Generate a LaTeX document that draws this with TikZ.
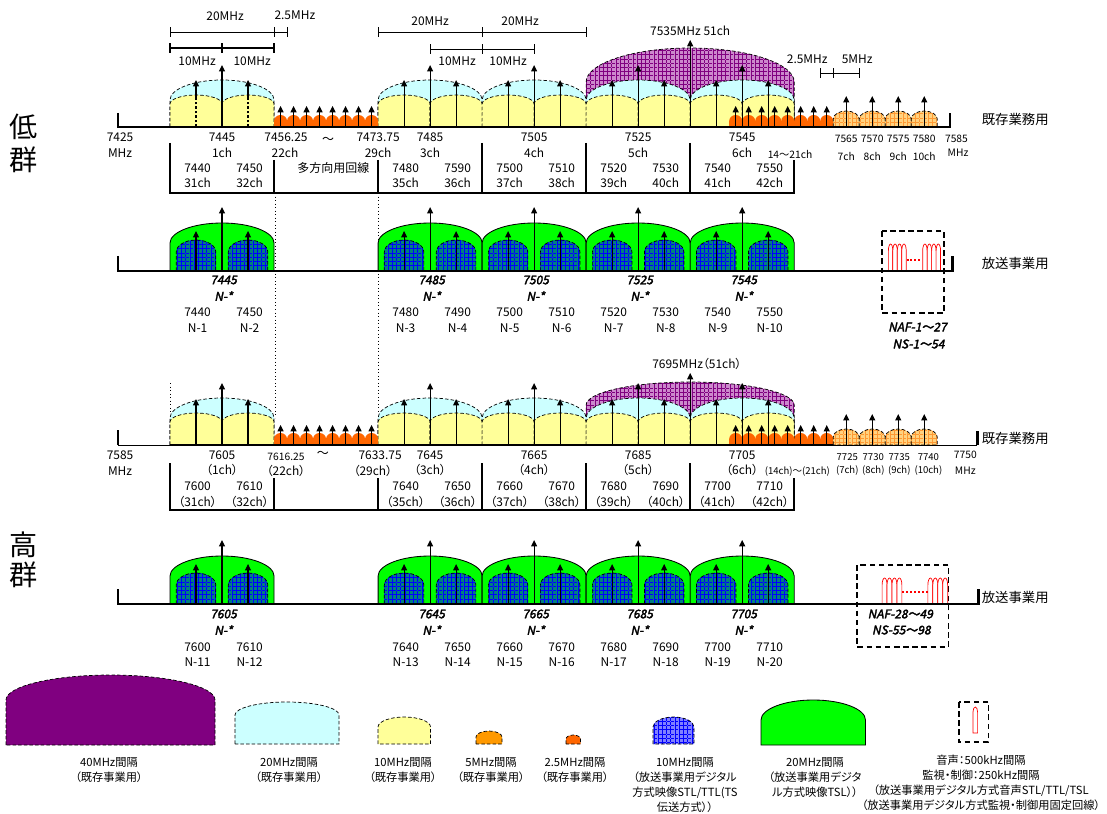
\documentclass[tikz,border=0pt]{standalone}
\usepackage{fontspec}
\setmainfont{Noto Sans CJK JP}[RawFeature=+palt]
\newfontfamily\bifont{Noto Sans CJK JP}[FakeSlant=0.2, FakeBold=2.5, RawFeature=+palt]
\usetikzlibrary{arrows.meta,patterns}

\definecolor{ylwfill}{HTML}{FFFF99}
\definecolor{cynfill}{HTML}{CCFFFF}
\definecolor{prpfill}{HTML}{CC88CC}
\definecolor{prpline}{HTML}{800080}
\definecolor{ornfill}{HTML}{FF6600}
\definecolor{lornfill}{HTML}{FFD280}
\definecolor{lornline}{HTML}{FF9933}
\definecolor{grnfill}{HTML}{00FF00}
\definecolor{blufill}{HTML}{008080}
\definecolor{bluline}{HTML}{0000FF}
\definecolor{legprp}{HTML}{800080}
\definecolor{legorn}{HTML}{FF9900}
\definecolor{legblu}{HTML}{8080FF}

% dome: style, x1, x2, base y, shoulder y, apex y
\newcommand{\dome}[6]{\path[#1] (#2,#4) -- (#2,#5) .. controls (#2,{(#5)+0.55*((#6)-(#5))}) and ({(#2)+0.225*((#3)-(#2))},#6) .. ({0.5*((#2)+(#3))},#6) .. controls ({(#3)-0.225*((#3)-(#2))},#6) and (#3,{(#5)+0.55*((#6)-(#5))}) .. (#3,#5) -- (#3,#4) -- cycle;}

\begin{document}
\begin{tikzpicture}[
    x=0.025cm, y=-0.025cm,
    bdr/.style={draw, line width=0.5pt, dash pattern=on 2.5pt off 1.5pt},
    ylw/.style={bdr, fill=ylwfill},
    cyn/.style={bdr, fill=cynfill},
    prp/.style={bdr, preaction={fill=prpfill}, pattern=grid, pattern color=prpline},
    orn/.style={fill=ornfill},
    lorn/.style={bdr, preaction={fill=lornfill}, pattern=grid, pattern color=lornline},
    grn/.style={draw, line width=0.6pt, fill=grnfill},
    blu/.style={bdr, preaction={fill=blufill}, pattern=grid, pattern color=bluline},
    rdarch/.style={draw=red, line width=0.5pt, fill=white},
    car/.style={-{Triangle[length=4.5pt,width=4.2pt]}, line width=0.8pt},
    axisln/.style={line width=1.5pt},
    baxis/.style={line width=1.8pt},
    tbl/.style={line width=1.6pt},
    dim/.style={line width=0.6pt},
    dimb/.style={line width=1.1pt},
    nafbox/.style={draw, line width=1pt, dash pattern=on 4pt off 2.5pt},
    rddot/.style={red, line width=1.4pt, dash pattern=on 1.4pt off 1.4pt},
    lbl/.style={font=\fontsize{8.5}{10}\selectfont, inner sep=0pt},
    sml/.style={font=\fontsize{7.3}{9}\selectfont, inner sep=0pt},
    tny/.style={font=\fontsize{6.8}{8}\selectfont, inner sep=0pt},
    bil/.style={font=\bifont\fontsize{8.5}{10}\selectfont, inner sep=0pt},
    use/.style={font=\fontsize{9.5}{11}\selectfont, inner sep=0pt},
    grp/.style={font=\fontsize{20}{22}\selectfont, inner sep=0pt},
    leg/.style={font=\fontsize{8}{10.6}\selectfont, inner sep=0pt, align=center, anchor=north}
]
\fill[white] (0,0) rectangle (1107,814);
\useasboundingbox (0,0) rectangle (1107,814);

\node[grp] (lo1) at (24,127) {低};
\node[grp] (lo2) at (24,160) {群};
\node[grp] (hi1) at (24,545) {高};
\node[grp] (hi2) at (24,575) {群};

% guide lines
\draw[dotted, line width=0.5pt] (275,193) -- (275,418);
\draw[dotted, line width=0.5pt] (378,193) -- (378,412);
\draw[dotted, line width=0.5pt] (170,383) -- (170,413);

%% low group, existing use
\begin{scope}[shift={(118,127)}, x=0.13cm, y=0.025cm]
  \dome{prp}{90}{130}{0}{45}{79}
  \foreach \a in {10,50,70,90,110} {\dome{cyn}{\a}{\a+20}{0}{27}{47}}
  \foreach \a in {10,20,50,60,70,80,90,100,110,120} {\dome{ylw}{\a}{\a+10}{0}{23}{32}}
  \foreach \k in {0,...,7} {\dome{orn}{30+2.5*\k}{32.5+2.5*\k}{0}{6}{12} \dome{orn}{117.5+2.5*\k}{120+2.5*\k}{0}{6}{12}}
  \foreach \k in {0,...,3} {\dome{lorn}{137.5+5*\k}{142.5+5*\k}{0}{8}{16}}
  \foreach \c in {20,60,80,100,120} {\draw[car] (\c,0) -- (\c,62);}
  \foreach \c in {55,65,...,125} {\draw[car] (\c,0) -- (\c,47);}
  \foreach \c in {15,25} {\draw[line width=0.8pt, dash pattern=on 2pt off 1.2pt] (\c,0) -- (\c,30); \draw[car] (\c,30) -- (\c,47);}
  \draw[car] (110,0) -- (110,87);
  \foreach \k in {0,...,7} {\draw[car] ({31.25+2.5*\k},0) -- ++(0,21); \draw[car] ({118.75+2.5*\k},0) -- ++(0,21);}
  \foreach \c in {140,145,150,155} {\draw[car] (\c,0) -- (\c,31);}
  \draw[axisln] (0,14) -- (0,0) -- (160,0) -- (160,14);
  % spacing marks
  \draw[dim] (10,95) -- (32.5,95);
  \foreach \c in {10,30,32.5} {\draw[dim] (\c,90) -- (\c,100);}
  \draw[dimb] (10,79) -- (30,79);
  \foreach \c in {10,20,30} {\draw[dimb] (\c,74) -- (\c,84);}
  \draw[dim] (50,95) -- (90,95);
  \foreach \c in {50,70,90} {\draw[dim] (\c,90) -- (\c,100);}
  \draw[dim] (60,78) -- (80,78);
  \foreach \c in {60,70,80} {\draw[dim] (\c,73) -- (\c,83);}
  \draw[dim] (135,54) -- (142.5,54);
  \foreach \c in {135,137.5,142.5} {\draw[dim] (\c,49) -- (\c,59);}
  \node[lbl] (w1) at (20.6,111) {20MHz};
  \node[lbl] (w2) at (34,112) {2.5MHz};
  \node[lbl] (w3) at (15.2,66) {10MHz};
  \node[lbl] (w4) at (25.8,66) {10MHz};
  \node[lbl] (w5) at (60,106) {20MHz};
  \node[lbl] (w6) at (77.3,106) {20MHz};
  \node[lbl] (w7) at (65.2,66) {10MHz};
  \node[lbl] (w8) at (75,66) {10MHz};
  \node[lbl] (w9) at (132.5,68) {2.5MHz};
  \node[lbl] (w10) at (142.1,68) {5MHz};
  \node[lbl] (ch51) at (110,96) {7535MHz 51ch};
  % frequencies
  \node[lbl] (lf0) at (0.4,-10) {7425};
  \node[lbl] (lu0) at (0.4,-26) {MHz};
  \foreach \c/\f/\n in {20/7445/1, 60/7485/3, 80/7505/4, 100/7525/5, 120/7545/6}
    {\node[lbl] (lf\n) at (\c,-10) {\f}; \node[lbl] (lc\n) at (\c,-26) {\n ch};}
  \node[lbl] (lf22) at (32.3,-10) {7456.25};
  \node[lbl] (lc22) at (32.1,-26) {22ch};
  \node[lbl] (lt) at (40.4,-13) {～};
  \node[lbl] (lf29) at (50,-10) {7473.75};
  \node[lbl] (lc29) at (50,-26) {29ch};
  \node[sml] (lc14) at (129.2,-27) {14～21ch};
  \foreach \c/\f/\n in {140/7565/7, 145/7570/8, 150/7575/9, 155/7580/10}
    {\node[sml] (lf\n) at (\c,-12) {\f}; \node[sml] (lc\n) at (\c,-29) {\n ch};}
  \node[sml] (lfe) at (161.2,-12) {7585};
  \node[sml] (lue) at (161.5,-26) {MHz};
  \node[use] (luse) at (172.5,8) {既存業務用};
  % channel table
  \draw[tbl] (10,-16) -- (10,-66) -- (130,-66) -- (130,-33);
  \foreach \c in {70,90,110} {\draw[tbl] (\c,-16) -- (\c,-66);}
  \foreach \c in {30,50} {\draw[tbl] (\c,-33) -- (\c,-66);}
  \foreach \c/\f/\n in {15/7440/31, 25/7450/32, 55/7480/35, 65/7590/36, 75/7500/37, 85/7510/38, 95/7520/39, 105/7530/40, 115/7540/41, 125/7550/42}
    {\node[lbl] (lt\n) at (\c+0.3,-41) {\f}; \node[lbl] (ltc\n) at (\c+0.3,-56) {\n ch};}
  \node[lbl] (multi) at (41.4,-41) {多方向用回線};
\end{scope}

%% low group, broadcasting
\begin{scope}[shift={(118,271)}, x=0.13cm, y=0.025cm]
  \foreach \a in {10,50,70,90,110} {\dome{grn}{\a}{\a+20}{0}{28}{48}}
  \foreach \c in {15,25,55,65,...,125} {\dome{blu}{\c-3.8}{\c+3.8}{0}{19}{31}}
  \foreach \c in {20,60,80,100,120} {\draw[car] (\c,0) -- (\c,64);}
  \foreach \c in {15,25,55,65,...,125} {\draw[car] (\c,0) -- (\c,40);}
  \draw[nafbox] (146.9,40) rectangle (158.8,-42);
  \foreach \g in {148.1,154.7} {\foreach \k in {0,...,3} {\dome{rdarch}{\g+0.86*\k}{\g+0.86*\k+0.86}{0}{20}{27}}}
  \draw[rddot] (151.6,11) -- (154.6,11);
  \draw[baxis] (0,15) -- (0,0) -- (160.4,0) -- (160.4,15);
  \foreach \c/\f/\n in {20/7445/1, 60/7485/3, 80/7505/4, 100/7525/5, 120/7545/6}
    {\node[bil] (bf\n) at (\c+0.3,-9) {\f}; \node[bil] (bn\n) at (\c+0.3,-25) {N-*};}
  \foreach \c/\f/\n in {15/7440/1, 25/7450/2, 55/7480/3, 65/7490/4, 75/7500/5, 85/7510/6, 95/7520/7, 105/7530/8, 115/7540/9, 125/7550/10}
    {\node[lbl] (bs\n) at (\c+0.3,-41) {\f}; \node[lbl] (bsn\n) at (\c+0.3,-57) {N-\n};}
  \node[bil] (naf1) at (153.7,-56) {NAF-1～27};
  \node[bil] (ns1) at (153.9,-73) {NS-1～54};
  \node[use] (buse) at (172.5,8) {放送事業用};
\end{scope}

%% high group, existing use
\begin{scope}[shift={(118,445)}, x=0.13cm, y=0.025cm]
  \dome{prp}{90}{130}{0}{40}{63}
  \foreach \a in {10,50,70,90,110} {\dome{cyn}{\a}{\a+20}{0}{27}{47}}
  \foreach \a in {10,20,50,60,70,80,90,100,110,120} {\dome{ylw}{\a}{\a+10}{0}{23}{32}}
  \foreach \k in {0,...,7} {\dome{orn}{30+2.5*\k}{32.5+2.5*\k}{0}{6}{12} \dome{orn}{117.5+2.5*\k}{120+2.5*\k}{0}{6}{12}}
  \foreach \k in {0,...,3} {\dome{lorn}{137.5+5*\k}{142.5+5*\k}{0}{8}{16}}
  \foreach \c in {20,60,80,100,120} {\draw[car] (\c,0) -- (\c,62);}
  \foreach \c in {15,25,55,65,...,125} {\draw[car] (\c,0) -- (\c,46);}
  \draw[car] (110,0) -- (110,72);
  \foreach \k in {0,...,7} {\draw[car] ({31.25+2.5*\k},0) -- ++(0,20); \draw[car] ({118.75+2.5*\k},0) -- ++(0,20);}
  \foreach \c in {140,145,150,155} {\draw[car] (\c,0) -- (\c,31);}
  \draw[line width=0.7pt] (0,0) -- (165.2,0);
  \draw[axisln] (10,0) -- (137.5,0);
  \draw[baxis] (0,0) -- (0,15);
  \draw[baxis] (165.2,0) -- (165.2,14);
  \node[lbl] (ch51h) at (111.3,81) {7695MHz（51ch）};
  \node[lbl] (hf0) at (0.4,-10) {7585};
  \node[lbl] (hu0) at (0.4,-26) {MHz};
  \foreach \c/\f/\n in {20/7605/1, 60/7645/3, 80/7665/4, 100/7685/5, 120/7705/6}
    {\node[lbl] (hf\n) at (\c,-10) {\f}; \node[lbl] (hc\n) at (\c,-25) {（\n ch）};}
  \node[sml] (hf22) at (32.3,-12) {7616.25};
  \node[lbl] (hc22) at (32.3,-26) {（22ch）};
  \node[lbl] (ht) at (39.4,-9) {～};
  \node[lbl] (hf29) at (50.4,-10) {7633.75};
  \node[lbl] (hc29) at (49,-26) {（29ch）};
  \node[tny] (hc14) at (130.6,-27) {(14ch)～(21ch)};
  \foreach \c/\f/\n in {140.2/7725/7, 145.2/7730/8, 150.2/7735/9, 155.8/7740/10}
    {\node[tny] (hf\n) at (\c,-12) {\f}; \node[tny] (hc\n) at (\c,-26) {(\n ch)};}
  \node[sml] (hfe) at (162.9,-10) {7750};
  \node[sml] (hue) at (162.9,-26) {MHz};
  \node[use] (huse) at (172.5,7) {既存業務用};
  \draw[tbl] (10,-18) -- (10,-65) -- (130,-65) -- (130,-33);
  \foreach \c in {70,90,110} {\draw[tbl] (\c,-18) -- (\c,-65);}
  \foreach \c in {30,50} {\draw[tbl] (\c,-33) -- (\c,-65);}
  \foreach \c/\f/\n in {15/7600/31, 25/7610/32, 55/7640/35, 65/7650/36, 75/7660/37, 85/7670/38, 95/7680/39, 105/7690/40, 115/7700/41, 125/7710/42}
    {\node[lbl] (ht\n) at (\c+0.3,-41) {\f}; \node[lbl] (htc\n) at (\c+0.3,-57) {（\n ch）};}
\end{scope}

%% high group, broadcasting
\begin{scope}[shift={(118,604)}, x=0.13cm, y=0.025cm]
  \foreach \a in {10,50,70,90,110} {\dome{grn}{\a}{\a+20}{0}{28}{48}}
  \foreach \c in {15,25,55,65,...,125} {\dome{blu}{\c-3.8}{\c+3.8}{0}{19}{31}}
  \foreach \c in {20,60,80,100,120} {\draw[car] (\c,0) -- (\c,64);}
  \foreach \c in {15,25,55,65,...,125} {\draw[car] (\c,0) -- (\c,40);}
  \draw[nafbox] (142.1,39) rectangle (159.7,-43);
  \foreach \g in {146.9,155.7} {\foreach \k in {0,...,3} {\dome{rdarch}{\g+0.95*\k}{\g+0.95*\k+0.95}{0}{19}{26}}}
  \draw[rddot] (150.8,12) -- (155.7,12);
  \draw[baxis] (0,15) -- (0,0) -- (165.4,0) -- (165.4,15);
  \foreach \c/\f/\n in {20/7605/1, 60/7645/3, 80/7665/4, 100/7685/5, 120/7705/6}
    {\node[bil] (hbf\n) at (\c+0.3,-10) {\f}; \node[bil] (hbn\n) at (\c+0.3,-26) {N-*};}
  \foreach \c/\f/\n in {15/7600/11, 25/7610/12, 55/7640/13, 65/7650/14, 75/7660/15, 85/7670/16, 95/7680/17, 105/7690/18, 115/7700/19, 125/7710/20}
    {\node[lbl] (hbs\n) at (\c+0.3,-43) {\f}; \node[lbl] (hbsn\n) at (\c+0.3,-58) {N-\n};}
  \node[bil] (naf2) at (150.4,-10) {NAF-28～49};
  \node[bil] (ns2) at (150.6,-26) {NS-55～98};
  \node[use] (hbuse) at (172.5,7) {放送事業用};
\end{scope}

%% legend
\dome{bdr, fill=legprp}{6}{215}{745}{700}{675}
\dome{cyn}{235}{339}{744}{715}{702}
\dome{ylw}{378}{430.5}{744}{727}{717}
\dome{bdr, fill=legorn}{476}{502}{744}{737}{731}
\dome{bdr, fill=ornfill}{566}{580.5}{744}{739}{735}
\dome{bdr, preaction={fill=legblu}, pattern=grid, pattern color=bluline}{653}{694}{744}{727}{717}
\dome{grn}{761}{865.5}{745}{720}{700}
\draw[nafbox] (959,702) rectangle (988.5,742);
\dome{rdarch}{973}{977.6}{733}{712}{707}
\node[leg] (k1) at (109,757) {40MHz間隔\\（既存事業用）};
\node[leg] (k2) at (289,757) {20MHz間隔\\（既存事業用）};
\node[leg] (k3) at (403,757) {10MHz間隔\\（既存事業用）};
\node[leg] (k4) at (491,757) {5MHz間隔\\（既存事業用）};
\node[leg] (k5) at (575,757) {2.5MHz間隔\\（既存事業用）};
\node[leg] (k6) at (685,757) {10MHz間隔\\（放送事業用デジタル\\方式映像STL/TTL(TS\\伝送方式））};
\node[leg] (k7) at (815,757) {20MHz間隔\\（放送事業用デジタ\\ル方式映像TSL））};
\node[leg] (k8) at (981,755) {音声：500kHz間隔\\監視・制御：250kHz間隔\\（放送事業用デジタル方式音声STL/TTL/TSL\\（放送事業用デジタル方式監視・制御用固定回線）};
\end{tikzpicture}
\end{document}
